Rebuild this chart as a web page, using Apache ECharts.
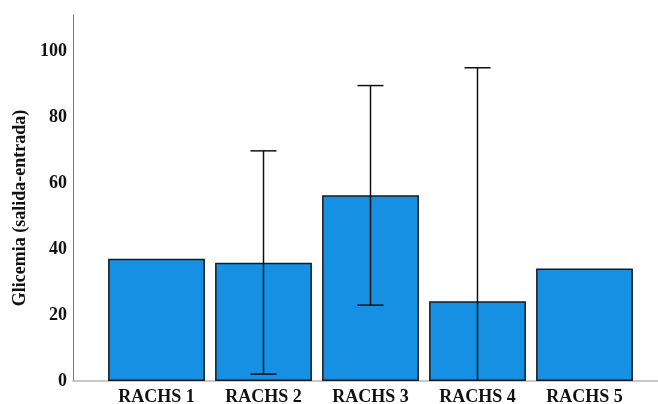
<!DOCTYPE html>
<html><head><meta charset="utf-8">
<script src="https://cdn.jsdelivr.net/npm/echarts@6/dist/echarts.min.js"></script>
<style>html,body{margin:0;padding:0;background:#fff}#c{width:658px;height:404px}</style>
</head><body><div id="c"></div>
<script>
const categories = ['RACHS 1','RACHS 2','RACHS 3','RACHS 4','RACHS 5'];
const means = [37.1, 35.9, 56.3, 24.2, 34.1];
const errLow = [null, 2.1, 23.0, -46.6, null];
const errHigh = [null, 69.8, 89.6, 95.0, null];
const yTicks = [0, 20, 40, 60, 80, 100];

const chart = echarts.init(document.getElementById('c'));
const font = '"Liberation Serif","Times New Roman",serif';
const errData = categories.map((c,i)=> errLow[i]===null ? null : [i, errLow[i], errHigh[i]]).filter(d=>d);
chart.setOption({
  animation:false,
  grid:[
    {left:103, right:20, top:15, bottom:23, outerBoundsMode:'none'},
    {left:73, right:0, top:15, bottom:23, outerBoundsMode:'none'}
  ],
  xAxis:[
    {type:'category', data:categories, gridIndex:0,
     axisLine:{show:false}, axisTick:{show:false},
     axisLabel:{fontFamily:font, fontWeight:'bold', fontSize:18, color:'#111', margin:7}},
    {type:'value', gridIndex:1, min:0, max:1, show:true,
     axisLine:{show:true, lineStyle:{color:'#b5b5b5', width:1.5}},
     axisTick:{show:false}, axisLabel:{show:false}, splitLine:{show:false}}
  ],
  yAxis:[
    {type:'value', gridIndex:0, min:0, max:111, interval:20, offset:30,
     name:'Glicemia (salida-entrada)', nameLocation:'middle', nameGap:43,
     nameTextStyle:{fontFamily:font, fontWeight:'bold', fontSize:18, color:'#111', padding:[0,20,0,0]},
     axisLine:{show:true, lineStyle:{color:'#777', width:1}},
     axisTick:{show:false}, splitLine:{show:false},
     axisLabel:{fontFamily:font, fontWeight:'bold', fontSize:18, color:'#111', margin:6,
       formatter:v=> yTicks.includes(v) ? String(v) : ''}},
    {type:'value', gridIndex:1, show:false, min:0, max:1}
  ],
  series:[
    {type:'bar', xAxisIndex:0, yAxisIndex:0, data:means, barCategoryGap:'9.5%',
     itemStyle:{color:'#1590e3', borderColor:'#1a1a1a', borderWidth:1.5}},
    {type:'custom', xAxisIndex:0, yAxisIndex:0, data:errData, clip:true, z:10,
     renderItem:function(params, api){
       const x = api.value(0);
       const lo = api.value(1), hi = api.value(2);
       const pHi = api.coord([x, hi]);
       const pLo = api.coord([x, Math.max(lo, 0)]);
       const hw = 13;
       const children = [
         {type:'line', shape:{x1:pHi[0], y1:pHi[1], x2:pLo[0], y2:pLo[1]}, style:{stroke:'#111', lineWidth:1.5}},
         {type:'line', shape:{x1:pHi[0]-hw, y1:pHi[1], x2:pHi[0]+hw, y2:pHi[1]}, style:{stroke:'#111', lineWidth:1.5}}
       ];
       if (lo >= 0) children.push({type:'line', shape:{x1:pLo[0]-hw, y1:pLo[1], x2:pLo[0]+hw, y2:pLo[1]}, style:{stroke:'#111', lineWidth:1.5}});
       return {type:'group', children};
     }}
  ]
});
</script></body></html>
